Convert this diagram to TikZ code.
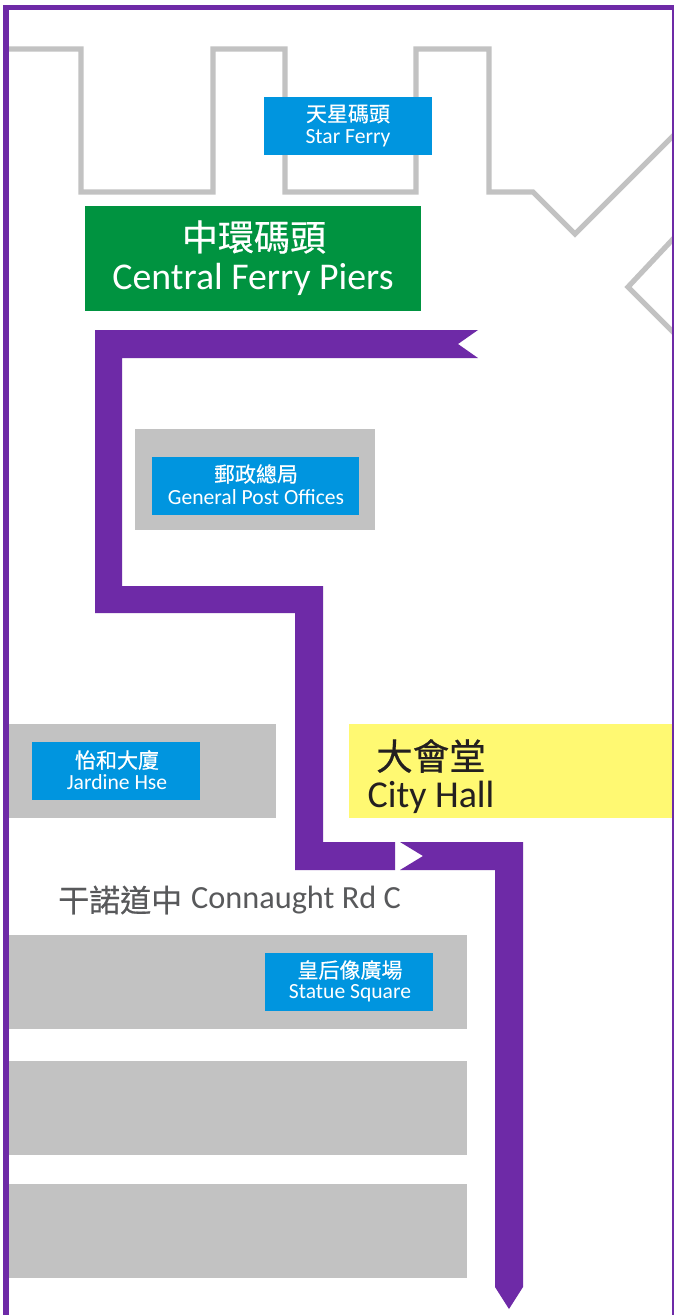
\documentclass[tikz,border=0pt]{standalone}
\usepackage{fontspec}
\setmainfont{Carlito}
\newfontfamily\cjk[FakeBold=0.5]{Noto Sans CJK TC}
\definecolor{route}{HTML}{6E2AA7}
\definecolor{signblue}{HTML}{0095DF}
\definecolor{signgreen}{HTML}{009340}
\definecolor{signyellow}{HTML}{FFF972}
\definecolor{block}{HTML}{C2C2C2}
\definecolor{roadtext}{HTML}{58595B}
\definecolor{halltext}{HTML}{231F20}
\tikzset{
  x=1pt,y=-1pt,
  shoreline/.style={draw=block,line width=5.2pt,miter limit=10},
  routeshape/.style={fill=route,draw=none},
  blockshape/.style={fill=block,draw=none},
  txt/.style={inner sep=0pt,anchor=center},
  smallzh/.style={txt,text=white,font=\cjk\fontsize{21}{21}\selectfont},
  smallen/.style={txt,text=white,font=\fontsize{21.6}{21.6}\selectfont},
}
\begin{document}
\begin{tikzpicture}
\useasboundingbox (0,0) rectangle (674,1315);
\fill[white] (0,0) rectangle (674,1315);
% shoreline
\draw[shoreline] (7,49) -- (81,49) -- (81,192) -- (213,192) -- (213,49) -- (285,49) -- (285,192) -- (416,192) -- (416,49) -- (489,49) -- (489,192) -- (533,192) -- (575,234) -- (674,135);
\draw[shoreline] (674,238) -- (628,287) -- (674,333);
% border
\fill[route] (3,5) rectangle (674,10);
\fill[route] (3,5) rectangle (9,1315);
\fill[route] (672,5) rectangle (674,1315);
% blocks
\fill[blockshape] (135,429) rectangle (375,530);
\fill[blockshape] (9,724) rectangle (276,818);
\fill[blockshape] (9,935) rectangle (467,1029);
\fill[blockshape] (9,1061) rectangle (467,1155);
\fill[blockshape] (9,1184) rectangle (467,1278);
\fill[signyellow] (349,724) rectangle (672,818);
% route
\fill[routeshape] (95,330) -- (478,330) -- (458,344) -- (478,358) -- (122,358) -- (122,586) -- (323,586) -- (323,842) -- (395,842) -- (395,870) -- (295,870) -- (295,613) -- (95,613) -- cycle;
\fill[routeshape] (400,842) -- (523,842) -- (523,1287) -- (509,1309) -- (495,1287) -- (495,870) -- (400,870) -- (423,856) -- cycle;
% signs
\fill[signblue] (264,97) rectangle (432,155);
\fill[signgreen] (85,206) rectangle (421,311);
\fill[signblue] (152,457) rectangle (359,515);
\fill[signblue] (32,742) rectangle (200,800);
\fill[signblue] (265,953) rectangle (433,1011);
% texts
\node[smallzh] (starzh) at (348,114) {天星碼頭};
\node[smallen] (staren) at (348,138) {Star Ferry};
\node[txt,text=white,font=\cjk\fontsize{36}{36}\selectfont] (cfpzh) at (254,237) {中環碼頭};
\node[txt,text=white,font=\fontsize{37.8}{37.8}\selectfont] (cfpen) at (253,279) {Central Ferry Piers};
\node[smallzh] (gpozh) at (256,474) {郵政總局};
\node[smallen] (gpoen) at (256,497) {General Post Offices};
\node[smallzh] (jarzh) at (117,760) {怡和大廈};
\node[smallen] (jaren) at (117,782) {Jardine Hse};
\node[txt,text=halltext,font=\cjk\fontsize{36.5}{36.5}\selectfont] (hallzh) at (431,756) {大會堂};
\node[txt,text=halltext,font=\fontsize{38}{38}\selectfont] (hallen) at (431,797) {City Hall};
\node[txt,text=roadtext,font=\cjk\fontsize{31}{31}\selectfont,anchor=west] (roadzh) at (58,900) {干諾道中};
\node[txt,text=roadtext,font=\fontsize{32.3}{32.3}\selectfont,anchor=west] (roaden) at (191,900) {Connaught Rd C};
\node[smallzh] (stazh) at (350,970) {皇后像廣場};
\node[smallen] (staen) at (350,993) {Statue Square};
\end{tikzpicture}
\end{document}
